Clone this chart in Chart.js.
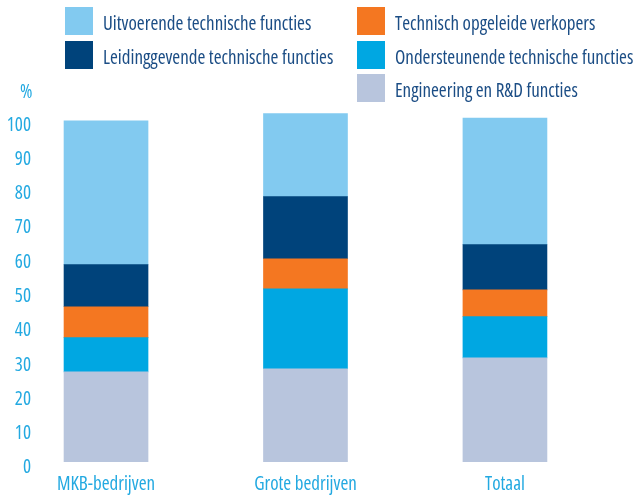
<!DOCTYPE html>
<html lang="nl">
<head>
<meta charset="utf-8">
<title>Technische functies naar bedrijfsgrootte</title>
<script src="https://cdn.jsdelivr.net/npm/chart.js@4.4.1/dist/chart.umd.min.js"></script>
<style>
  body { margin: 0; background: #fff; }
  .wrap { position: relative; width: 636px; height: 495px; }
  .txtfont { font-family: 'Open Sans', sans-serif; font-stretch: condensed; font-size: 19px; }
  #legend {
    position: absolute; left: 65px; top: 7px;
    display: grid; grid-template-columns: 292px auto; grid-auto-rows: 33.5px;
    color: #1b4d85;
  }
  #legend .item { display: flex; align-items: flex-start; white-space: nowrap; }
  #legend .box { width: 28px; height: 28px; margin-right: 10px; flex: none; }
  #legend .txt { line-height: 28px; position: relative; top: 2px; }
  #unit { position: absolute; left: 20px; top: 77px; line-height: 28px; color: #23a9e1; }
</style>
</head>
<body>
<div class="wrap">
  <canvas id="jobsChart" width="636" height="495"></canvas>
  <div id="legend" class="txtfont"></div>
  <div id="unit" class="txtfont">%</div>
</div>
<script>
// Share of technical job types per company size (percent)
const categories = ['MKB-bedrijven', 'Grote bedrijven', 'Totaal'];
const engineering = [26.2, 27.1, 30.3];
const ondersteunend = [10.0, 23.3, 12.0];
const verkopers = [9.0, 8.8, 7.8];
const leidinggevend = [12.3, 18.1, 13.2];
const uitvoerend = [41.9, 24.2, 36.9];
const yTicks = [0, 10, 20, 30, 40, 50, 60, 70, 80, 90, 100];

// 'condensed' ends up in the canvas font shorthand as font-stretch
const FONT = { family: "'Open Sans', sans-serif", size: 19, weight: 'condensed' };
const TICK_COLOR = '#23a9e1';

// stack order bottom to top; col/row is the legend slot
const series = [
    { label: 'Engineering en R&D functies', data: engineering, color: '#b8c5dd', col: 2, row: 3 },
    { label: 'Ondersteunende technische functies', data: ondersteunend, color: '#00a7e2', col: 2, row: 2 },
    { label: 'Technisch opgeleide verkopers', data: verkopers, color: '#f47721', col: 2, row: 1 },
    { label: 'Leidinggevende technische functies', data: leidinggevend, color: '#00437b', col: 1, row: 2 },
    { label: 'Uitvoerende technische functies', data: uitvoerend, color: '#82caf0', col: 1, row: 1 }
];

const datasets = series.map(s => ({
    label: s.label,
    data: s.data.map((v, i) => ({ x: i, y: v })),
    backgroundColor: s.color,
    borderWidth: 0,
    barThickness: 84,
    xAxisID: 'x',
    yAxisID: 'y'
}));

new Chart(document.getElementById('jobsChart'), {
    type: 'bar',
    data: { datasets: datasets },
    options: {
        responsive: false,
        animation: false,
        layout: { padding: { left: 0, right: 0, top: 108, bottom: 0 } },
        scales: {
            x: {
                type: 'linear',
                stacked: true,
                offset: false,
                min: -0.341,
                max: 2.657,
                grid: { display: false, drawTicks: false },
                border: { display: false },
                afterBuildTicks: scale => {
                    scale.ticks = categories.map((c, i) => ({ value: i }));
                },
                afterFit: scale => {
                    scale.height = 27;
                    scale.paddingLeft = 0;
                    scale.paddingRight = 0;
                },
                ticks: {
                    maxRotation: 0,
                    autoSkip: false,
                    padding: 5,
                    color: TICK_COLOR,
                    font: FONT,
                    callback: value => categories[value]
                }
            },
            // bars start a little above the printed zero label
            y: {
                display: false,
                stacked: true,
                min: -1.84,
                max: 103.16
            },
            yLabels: {
                position: 'left',
                min: 0,
                max: 105,
                grid: { display: false, drawTicks: false },
                border: { display: false },
                afterBuildTicks: scale => {
                    scale.ticks = yTicks.map(v => ({ value: v }));
                },
                afterFit: scale => { scale.width = 38; },
                ticks: {
                    padding: 7,
                    color: TICK_COLOR,
                    font: FONT
                }
            }
        },
        plugins: {
            legend: { display: false },
            tooltip: { enabled: false },
            title: { display: false }
        }
    }
});

// two-column legend above the plot
const legend = document.getElementById('legend');
series.forEach(s => {
    const item = document.createElement('div');
    item.className = 'item';
    item.style.gridColumn = s.col;
    item.style.gridRow = s.row;
    const box = document.createElement('span');
    box.className = 'box';
    box.style.background = s.color;
    const txt = document.createElement('span');
    txt.className = 'txt';
    txt.textContent = s.label;
    item.appendChild(box);
    item.appendChild(txt);
    legend.appendChild(item);
});
</script>
</body>
</html>
